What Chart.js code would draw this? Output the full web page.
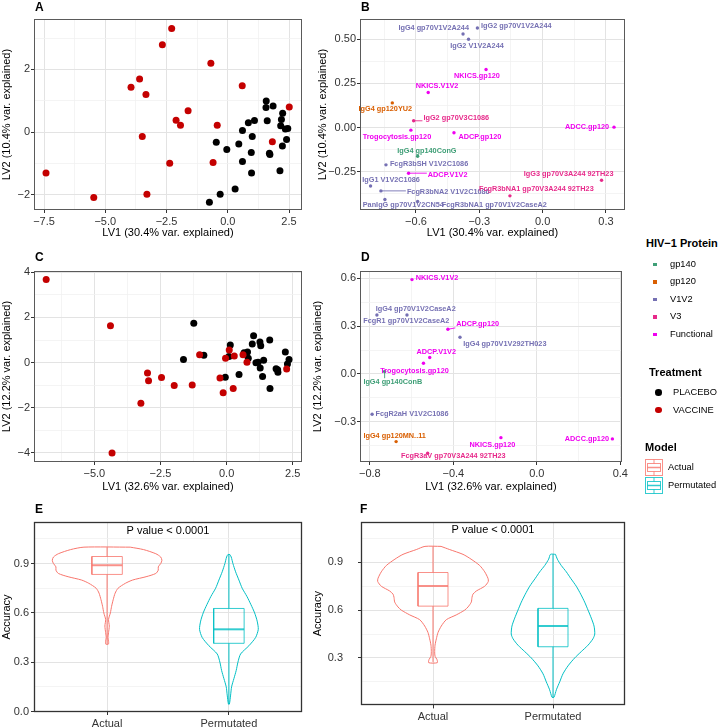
<!DOCTYPE html>
<html>
<head>
<meta charset="utf-8">
<script src="https://cdn.jsdelivr.net/npm/chart.js@4.4.1/dist/chart.umd.min.js"></script>
<style>
  body { margin: 0; background: #fff; width: 722px; height: 727px; overflow: hidden; position: relative;
         font-family: 'Liberation Sans', Arial, sans-serif; }
  canvas { position: absolute; }
  .t { position: absolute; white-space: nowrap; color: #000; }
  .tag { font-weight: bold; font-size: 12px; line-height: 12px; }
</style>
</head>
<body>
<canvas id="pA" width="310" height="238" style="left:0;top:0"></canvas>
<canvas id="pB" width="330" height="238" style="left:300px;top:0"></canvas>
<canvas id="pC" width="310" height="254" style="left:0;top:238px"></canvas>
<canvas id="pD" width="330" height="254" style="left:300px;top:238px"></canvas>
<canvas id="pE" width="310" height="237" style="left:0;top:490px"></canvas>
<canvas id="pF" width="330" height="237" style="left:300px;top:490px"></canvas>
<div class="t tag" style="left:35px;top:1px">A</div>
<div class="t tag" style="left:361px;top:1px">B</div>
<div class="t tag" style="left:35px;top:251px">C</div>
<div class="t tag" style="left:361px;top:251px">D</div>
<div class="t tag" style="left:35px;top:503px">E</div>
<div class="t tag" style="left:360px;top:503px">F</div>
<div id="legend"></div>

<script>
// ---- data ----
const treatments = ['PLACEBO', 'VACCINE']
const treatmentColors = ['#000000', '#c40000']

// panel A (LV1 30.4%, LV2 10.4%)
const aPlaceboX = [1.57, 1.56, 1.85, 2.24, 2.19, 1.61, 1.09, 0.84, 2.16, 2.45, 2.35, 0.60, 1.00, 2.40, -0.47, 0.45, 2.23, -0.04, 0.96, 1.70, 1.72, 0.60, 0.97, 2.13, 0.30, -0.31, -0.75]
const aPlaceboY = [0.99, 0.78, 0.83, 0.60, 0.40, 0.36, 0.37, 0.30, 0.20, 0.11, 0.10, 0.05, -0.14, -0.24, -0.33, -0.38, -0.45, -0.56, -0.65, -0.68, -0.72, -0.94, -1.31, -1.24, -1.82, -1.99, -2.24]
const aVaccineX = [-2.29, -2.67, -0.69, -3.60, -3.95, -3.34, 0.59, -1.62, -2.11, -1.93, -0.43, -3.49, 2.51, 1.82, -2.37, -0.60, -7.42, -5.47, -3.30]
const aVaccineY = [3.31, 2.79, 2.20, 1.69, 1.43, 1.20, 1.48, 0.68, 0.38, 0.22, 0.22, -0.14, 0.80, -0.31, -1.00, -0.97, -1.31, -2.09, -1.99]

// panel C (LV1 32.6%, LV2 12.2%)
const cPlaceboX = [-1.24, -1.63, -0.86, 0.14, 0.09, -0.05, 0.47, 0.66, 0.79, 0.82, 0.97, 1.02, 1.11, 1.19, 1.26, 1.29, 1.27, 1.36, 1.40, 1.63, 1.64, 1.87, 1.93, 1.94, 2.22, 2.30, 2.36]
const cPlaceboY = [1.74, 0.13, 0.32, 0.78, 0.27, -0.65, -0.53, 0.43, 0.47, 0.19, 0.82, 1.19, -0.01, 0.01, 0.91, 0.74, -0.24, -0.62, 0.10, 1.00, -1.15, -0.27, -0.32, -0.43, 0.47, -0.06, 0.13]
const cVaccineX = [-6.82, -4.39, -4.33, -2.99, -2.95, -2.46, -3.24, -1.98, -1.30, -1.02, -0.25, -0.13, -0.04, 0.10, 0.25, 0.29, 0.62, 0.77, 2.27]
const cVaccineY = [3.68, 1.63, -4.01, -0.46, -0.81, -0.66, -1.80, -1.02, -0.99, 0.35, -0.69, -1.34, 0.19, 0.56, -1.15, 0.29, 0.35, 0.01, -0.29]

// loadings
const proteinGroups = ['gp140', 'gp120', 'V1V2', 'V3', 'Functional']
const proteinColors = ['#3f9f77', '#d95f02', '#7570b3', '#e7298a', '#f000f0']

const bNames = ['IgG4 gp70V1V2A244', 'IgG2 gp70V1V2A244', 'IgG2 V1V2A244', 'NKICS.gp120', 'NKICS.V1V2', 'IgG4 gp120YU2',
  'IgG2 gp70V3C1086', 'Trogocytosis.gp120', 'ADCP.gp120', 'ADCC.gp120', 'IgG4 gp140ConG', 'FcgR3bSH V1V2C1086',
  'ADCP.V1V2', 'IgG1 V1V2C1086', 'FcgR3bNA2 V1V2C1086', 'PanIgG gp70V1V2CN54', 'FcgR3bNA1 gp70V1V2CaseA2',
  'IgG3 gp70V3A244 92TH23', 'FcgR3bNA1 gp70V3A244 92TH23']
const bGroup = [2, 2, 2, 4, 4, 1, 3, 4, 4, 4, 0, 2, 4, 2, 2, 2, 2, 3, 3]
const bX = [-0.377, -0.309, -0.351, -0.268, -0.542, -0.712, -0.611, -0.624, -0.420, 0.338, -0.592, -0.742, -0.635, -0.815, -0.766, -0.747, -0.592, 0.279, -0.155]
const bY = [0.528, 0.562, 0.499, 0.328, 0.198, 0.139, 0.038, -0.015, -0.030, 0.002, -0.162, -0.211, -0.258, -0.330, -0.358, -0.407, -0.418, -0.298, -0.386]
const bLabelX = [-0.516, -0.125, -0.311, -0.311, -0.500, -0.745, -0.409, -0.690, -0.297, 0.210, -0.548, -0.538, -0.450, -0.718, -0.447, -0.660, -0.229, 0.123, -0.030]
const bLabelY = [0.563, 0.575, 0.462, 0.290, 0.232, 0.102, 0.051, -0.053, -0.053, 0.002, -0.130, -0.204, -0.269, -0.298, -0.367, -0.439, -0.439, -0.262, -0.349]
const bSegment = [0, 0, 0, 0, 0, 0, 1, 0, 0, 0, 0, 0, 1, 0, 1, 0, 0, 0, 0]

const dNames = ['NKICS.V1V2', 'IgG4 gp70V1V2CaseA2', 'FcgR1 gp70V1V2CaseA2', 'ADCP.gp120', 'IgG4 gp70V1V292TH023',
  'ADCP.V1V2', 'Trogocytosis.gp120', 'IgG4 gp140ConB', 'FcgR2aH V1V2C1086', 'IgG4 gp120MN..11', 'NKICS.gp120',
  'ADCC.gp120', 'FcgR3aV gp70V3A244 92TH23']
const dGroup = [4, 2, 2, 4, 2, 4, 4, 0, 2, 1, 4, 4, 3]
const dX = [-0.598, -0.622, -0.766, -0.426, -0.368, -0.513, -0.543, -0.729, -0.789, -0.674, -0.172, 0.362, -0.523]
const dY = [0.592, 0.370, 0.370, 0.280, 0.230, 0.103, 0.067, 0.015, -0.253, -0.425, -0.400, -0.408, -0.498]
const dLabelX = [-0.478, -0.580, -0.625, -0.283, -0.153, -0.482, -0.586, -0.690, -0.598, -0.681, -0.213, 0.240, -0.400]
const dLabelY = [0.605, 0.408, 0.331, 0.314, 0.188, 0.140, 0.021, -0.052, -0.253, -0.389, -0.444, -0.408, -0.515]
const dSegment = [0, 0, 0, 1, 0, 0, 0, 1, 0, 0, 0, 0, 0]

// accuracy distributions: violin half-widths (category units) at accuracy levels, box stats [min, q1, median, q3, max]
const models = ['Actual', 'Permutated']
const modelColors = ['#F8766D', '#00BFC4']
const pValueText = 'P value < 0.0001'

const eActualLevels = [1.0, 0.985, 0.96, 0.94, 0.92, 0.90, 0.88, 0.86, 0.84, 0.82, 0.80, 0.78, 0.75, 0.72, 0.68, 0.64, 0.60, 0.56, 0.52, 0.48, 0.45, 0.43, 0.41]
const eActualWidths = [0.19, 0.30, 0.40, 0.44, 0.45, 0.44, 0.42, 0.42, 0.40, 0.32, 0.21, 0.15, 0.09, 0.066, 0.05, 0.037, 0.027, 0.012, 0.018, 0.012, 0.007, 0.012, 0.011]
const ePermLevels = [0.955, 0.94, 0.90, 0.85, 0.80, 0.75, 0.70, 0.65, 0.60, 0.55, 0.50, 0.45, 0.40, 0.35, 0.30, 0.25, 0.20, 0.15, 0.10, 0.045]
const ePermWidths = [0.008, 0.019, 0.033, 0.055, 0.082, 0.109, 0.148, 0.181, 0.211, 0.232, 0.241, 0.219, 0.164, 0.096, 0.074, 0.060, 0.041, 0.022, 0.014, 0.004]
const eActualBox = [0.41, 0.834, 0.89, 0.943, 1.0]
const ePermBox = [0.045, 0.415, 0.50, 0.627, 0.955]

const fActualLevels = [1.0, 0.98, 0.95, 0.92, 0.88, 0.84, 0.80, 0.78, 0.75, 0.72, 0.70, 0.68, 0.65, 0.62, 0.60, 0.57, 0.54, 0.50, 0.46, 0.42, 0.38, 0.34, 0.31, 0.29, 0.27]
const fActualWidths = [0.067, 0.139, 0.25, 0.317, 0.389, 0.431, 0.458, 0.461, 0.431, 0.361, 0.333, 0.325, 0.319, 0.292, 0.264, 0.194, 0.111, 0.069, 0.042, 0.028, 0.017, 0.014, 0.017, 0.033, 0.036]
const fPermLevels = [0.95, 0.92, 0.88, 0.84, 0.80, 0.75, 0.70, 0.65, 0.60, 0.55, 0.50, 0.45, 0.42, 0.38, 0.34, 0.30, 0.25, 0.20, 0.15, 0.10, 0.053]
const fPermWidths = [0.021, 0.036, 0.069, 0.111, 0.147, 0.194, 0.231, 0.264, 0.292, 0.319, 0.342, 0.348, 0.333, 0.292, 0.236, 0.181, 0.125, 0.083, 0.056, 0.028, 0.008]
const fActualBox = [0.275, 0.625, 0.751, 0.836, 1.0]
const fPermBox = [0.053, 0.37, 0.50, 0.611, 0.95]

// axis ticks
const abXTicks = { A: [-7.5, -5, -2.5, 0, 2.5], B: [-0.6, -0.3, 0, 0.3], C: [-5, -2.5, 0, 2.5], D: [-0.8, -0.4, 0, 0.4] }
const abXLabels = { A: ['−7.5', '−5.0', '−2.5', '0.0', '2.5'], B: ['−0.6', '−0.3', '0.0', '0.3'], C: ['−5.0', '−2.5', '0.0', '2.5'], D: ['−0.8', '−0.4', '0.0', '0.4'] }
const abYTicks = { A: [-2, 0, 2], B: [-0.25, 0, 0.25, 0.5], C: [-4, -2, 0, 2, 4], D: [-0.3, 0, 0.3, 0.6] }
const abYLabels = { A: ['−2', '0', '2'], B: ['−0.25', '0.00', '0.25', '0.50'], C: ['−4', '−2', '0', '2', '4'], D: ['−0.3', '0.0', '0.3', '0.6'] }
const accTicksE = [0, 0.3, 0.6, 0.9]
const accLabelsE = ['0.0', '0.3', '0.6', '0.9']
const accTicksF = [0.3, 0.6, 0.9]
const accLabelsF = ['0.3', '0.6', '0.9']

// ---- chart setup ----
Chart.defaults.font.family = "'Liberation Sans', Arial, sans-serif"
Chart.defaults.font.size = 11
Chart.defaults.color = '#333'
Chart.defaults.animation = false

function midpoints(major, min, max) {
  const step = major[1] - major[0]
  const out = []
  for (let v = major[0] - step / 2; v < max; v += step) {
    const r = Math.round(v * 1e6) / 1e6
    if (r > min && !major.includes(r)) out.push(r)
  }
  return out
}

function axis(o) {
  const minor = o.minor === false ? [] : midpoints(o.major, o.min, o.max)
  const isMajor = v => o.major.includes(v)
  return {
    type: 'linear', min: o.min, max: o.max, bounds: 'data',
    afterBuildTicks: s => { s.ticks = o.major.concat(minor).sort((a, b) => a - b).map(v => ({ value: v })) },
    afterFit: s => { if (o.horizontal) s.height = o.size; else s.width = o.size },
    ticks: {
      autoSkip: false, maxRotation: 0, padding: o.tickPad, color: '#333',
      callback: v => { const i = o.major.indexOf(v); return i < 0 ? '' : o.labels[i] }
    },
    grid: {
      color: c => isMajor(c.tick.value) ? '#e3e3e3' : '#f1f1f1',
      lineWidth: c => isMajor(c.tick.value) ? 1 : 0.8,
      tickLength: 3,
      tickColor: c => isMajor(c.tick.value) ? '#333' : 'rgba(0,0,0,0)'
    },
    border: { display: false },
    title: o.title ? { display: true, text: o.title, color: '#000', font: { size: 11 }, padding: { top: o.titlePad || 0, bottom: o.horizontal ? -1.5 : 0 } } : { display: false }
  }
}

function boxPlugin(color, width) {
  return {
    id: 'panelBox',
    afterDatasetsDraw(chart) {
      const { ctx, chartArea: a } = chart
      ctx.save()
      ctx.strokeStyle = color
      ctx.lineWidth = width
      ctx.strokeRect(Math.round(a.left) + 0.5, Math.round(a.top) + 0.5, Math.round(a.right - a.left) - 1, Math.round(a.bottom - a.top) - 1)
      ctx.restore()
    }
  }
}

function labelPlugin(names, groups, xs, ys, lxs, lys, segs) {
  return {
    id: 'repelLabels',
    afterDatasetsDraw(chart) {
      const { ctx, scales: { x, y } } = chart
      ctx.save()
      ctx.font = "bold 7.3px 'Liberation Sans', Arial, sans-serif"
      ctx.textAlign = 'center'
      ctx.textBaseline = 'middle'
      names.forEach((name, i) => {
        const col = proteinColors[groups[i]]
        const px = x.getPixelForValue(xs[i]), py = y.getPixelForValue(ys[i])
        const lx = x.getPixelForValue(lxs[i]), ly = y.getPixelForValue(lys[i])
        if (segs[i]) {
          const hw = ctx.measureText(name).width / 2 + 1, hh = 4
          const ex = Math.max(lx - hw, Math.min(px, lx + hw))
          const ey = Math.max(ly - hh, Math.min(py, ly + hh))
          ctx.strokeStyle = col
          ctx.lineWidth = 0.9
          ctx.beginPath(); ctx.moveTo(px, py); ctx.lineTo(ex, ey); ctx.stroke()
        }
        ctx.fillStyle = col
        ctx.fillText(name, lx, ly)
      })
      ctx.restore()
    }
  }
}

function textPlugin(text, xv, yv) {
  return {
    id: 'pText',
    afterDatasetsDraw(chart) {
      const { ctx, scales: { x, y } } = chart
      ctx.save()
      ctx.font = "11px 'Liberation Sans', Arial, sans-serif"
      ctx.fillStyle = '#000'
      ctx.textAlign = 'center'
      ctx.textBaseline = 'middle'
      ctx.fillText(text, x.getPixelForValue(xv), y.getPixelForValue(yv))
      ctx.restore()
    }
  }
}

const pts = (xs, ys) => xs.map((v, i) => ({ x: v, y: ys[i] }))

function scoresChart(id, key, px, py, vx, vy, xr, yr, xTitle, yTitle, yWidth, yTitlePad, pad, xHeight) {
  new Chart(document.getElementById(id), {
    type: 'scatter',
    data: {
      datasets: [
        { label: treatments[1], data: pts(vx, vy), backgroundColor: treatmentColors[1], borderWidth: 0, pointRadius: 3.5 },
        { label: treatments[0], data: pts(px, py), backgroundColor: treatmentColors[0], borderWidth: 0, pointRadius: 3.5 }
      ]
    },
    options: {
      responsive: false, devicePixelRatio: 1, events: [],
      layout: { padding: pad, autoPadding: false },
      plugins: { legend: { display: false }, tooltip: { enabled: false } },
      scales: {
        x: axis({ min: xr[0], max: xr[1], major: abXTicks[key], labels: abXLabels[key], horizontal: true, size: xHeight, tickPad: 2, title: xTitle }),
        y: axis({ min: yr[0], max: yr[1], major: abYTicks[key], labels: abYLabels[key], size: yWidth, tickPad: 1, title: yTitle, titlePad: yTitlePad })
      }
    },
    plugins: [boxPlugin('#5a5a5a', 1)]
  })
}

function loadingsChart(id, key, names, groups, xs, ys, lxs, lys, segs, xr, yr, xTitle, yTitle, yTitlePad, pad, xHeight) {
  new Chart(document.getElementById(id), {
    type: 'scatter',
    data: {
      datasets: proteinGroups.map((g, gi) => ({
        label: g,
        data: xs.map((v, i) => ({ x: v, y: ys[i], g: groups[i] })).filter(p => p.g === gi),
        backgroundColor: proteinColors[gi], borderWidth: 0, pointRadius: 1.7
      }))
    },
    options: {
      responsive: false, devicePixelRatio: 1, events: [],
      layout: { padding: pad, autoPadding: false },
      plugins: { legend: { display: false }, tooltip: { enabled: false } },
      scales: {
        x: axis({ min: xr[0], max: xr[1], major: abXTicks[key], labels: abXLabels[key], horizontal: true, size: xHeight, tickPad: 2, title: xTitle }),
        y: axis({ min: yr[0], max: yr[1], major: abYTicks[key], labels: abYLabels[key], size: 60, tickPad: 1, title: yTitle, titlePad: yTitlePad })
      }
    },
    plugins: [labelPlugin(names, groups, xs, ys, lxs, lys, segs), boxPlugin('#5a5a5a', 1)]
  })
}

function outline(center, levels, widths) {
  const right = levels.map((y, i) => ({ x: center + widths[i], y }))
  const left = levels.map((y, i) => ({ x: center - widths[i], y })).reverse()
  return right.concat(left, [right[0]])
}

function boxSets(center, s, color) {
  const h = 0.125
  const line = (data, w, c) => ({ data, borderColor: c, borderWidth: w, showLine: true, pointRadius: 0, tension: 0, fill: false })
  const faded = color + 'cc'
  return [
    line([{ x: center, y: s[3] }, { x: center, y: s[4] }], 1, color),
    line([{ x: center, y: s[0] }, { x: center, y: s[1] }], 1, color),
    line([{ x: center - h, y: s[1] }, { x: center + h, y: s[1] }, { x: center + h, y: s[3] }, { x: center - h, y: s[3] }, { x: center - h, y: s[1] }], 1, faded),
    line([{ x: center - h, y: s[2] }, { x: center + h, y: s[2] }], 2, faded)
  ]
}

function accuracyChart(id, violins, boxes, yMin, ticks, labels, yWidth, yTickPad, yTitlePad, pad) {
  const datasets = []
  violins.forEach((v, i) => {
    datasets.push({ data: outline(i + 1, v[0], v[1]), borderColor: modelColors[i], borderWidth: 1, showLine: true, pointRadius: 0, tension: 0.25, fill: false })
  })
  boxes.forEach((b, i) => boxSets(i + 1, b, modelColors[i]).forEach(d => datasets.push(d)))
  new Chart(document.getElementById(id), {
    type: 'scatter',
    data: { datasets },
    options: {
      responsive: false, devicePixelRatio: 1, events: [],
      layout: { padding: pad, autoPadding: false },
      plugins: { legend: { display: false }, tooltip: { enabled: false } },
      scales: {
        x: axis({ min: 0.4, max: 2.6, major: [1, 2], labels: models, minor: false, horizontal: true, size: 15, tickPad: 2 }),
        y: axis({ min: yMin, max: 1.153, major: ticks, labels, size: yWidth, tickPad: yTickPad, title: 'Accuracy', titlePad: yTitlePad })
      }
    },
    plugins: [textPlugin(pValueText, 1.5, 1.1), boxPlugin('#333333', 1.3)]
  })
}

const lvA = ['LV1 (30.4% var. explained)', 'LV2 (10.4% var. explained)']
const lvC = ['LV1 (32.6% var. explained)', 'LV2 (12.2% var. explained)']

scoresChart('pA', 'A', aPlaceboX, aPlaceboY, aVaccineX, aVaccineY, [-7.91, 3.03], [-2.49, 3.61], lvA[0], lvA[1], 34, 0,
  { top: 19, right: 8, left: 0, bottom: 0 }, 28)
loadingsChart('pB', 'B', bNames, bGroup, bX, bY, bLabelX, bLabelY, bSegment, [-0.865, 0.39], [-0.466, 0.613], lvA[0], lvA[1], 16,
  { top: 19, right: 5, left: 0, bottom: 0 }, 28)
scoresChart('pC', 'C', cPlaceboX, cPlaceboY, cVaccineX, cVaccineY, [-7.28, 2.85], [-4.41, 4.06], lvC[0], lvC[1], 34, 0,
  { top: 33, right: 8, left: 0, bottom: 0 }, 30)
loadingsChart('pD', 'D', dNames, dGroup, dX, dY, dLabelX, dLabelY, dSegment, [-0.847, 0.408], [-0.553, 0.646], lvC[0], lvC[1], 11,
  { top: 33, right: 5, left: 0, bottom: 0 }, 30)
accuracyChart('pE', [[eActualLevels, eActualWidths], [ePermLevels, ePermWidths]], [eActualBox, ePermBox], -0.003, accTicksE, accLabelsE, 34, 2, 0,
  { top: 32, right: 8, left: 0, bottom: 0 })
accuracyChart('pF', [[fActualLevels, fActualWidths], [fPermLevels, fPermWidths]], [fActualBox, fPermBox], 0.002, accTicksF, accLabelsF, 61, 15, 11,
  { top: 32, right: 5, left: 0, bottom: 0 })

// ---- legend (html) ----
const lg = document.getElementById('legend')
function addText(text, left, cy, size, bold) {
  const d = document.createElement('div')
  d.className = 't'
  d.textContent = text
  d.style.left = left + 'px'
  d.style.top = (cy - size / 2) + 'px'
  d.style.fontSize = size + 'px'
  d.style.lineHeight = size + 'px'
  if (bold) d.style.fontWeight = 'bold'
  lg.appendChild(d)
}
function addDot(cx, cy, r, color, square) {
  const d = document.createElement('div')
  d.style.cssText = `position:absolute;left:${cx - r}px;top:${cy - r}px;width:${2 * r}px;height:${2 * r}px;background:${color};border-radius:${square ? 0 : r}px`
  lg.appendChild(d)
}
addText('HIV−1 Protein', 646, 243, 11, true)
proteinGroups.forEach((g, i) => {
  const cy = 264.5 + i * 17.5
  addDot(655, cy, 1.6, proteinColors[i], true)
  addText(g, 670, cy, 9.3)
})
addText('Treatment', 649, 372, 11, true)
treatments.forEach((t, i) => {
  const cy = 392.7 + i * 17.5
  addDot(658.3, cy, 3.3, treatmentColors[i])
  addText(t, 673, cy, 9.3)
})
addText('Model', 645, 447.5, 11, true)
models.forEach((m, i) => {
  const top = 459 + i * 17.7
  const c = modelColors[i]
  const s = document.createElementNS('http://www.w3.org/2000/svg', 'svg')
  s.setAttribute('width', 18); s.setAttribute('height', 18)
  s.style.cssText = `position:absolute;left:645px;top:${top}px`
  s.innerHTML = `<g fill="none" stroke="${c}" stroke-opacity="0.8" stroke-width="1">
    <rect x="0.5" y="0.5" width="17" height="16"/>
    <line x1="9" y1="0.5" x2="9" y2="4.5"/><line x1="9" y1="12.5" x2="9" y2="16.5"/>
    <rect x="2.5" y="4.5" width="13" height="8"/>
    <line x1="2.5" y1="8.5" x2="15.5" y2="8.5" stroke-width="1.5"/></g>`
  lg.appendChild(s)
  addText(m, 668, top + 8.7, 9.3)
})
</script>
</body>
</html>
